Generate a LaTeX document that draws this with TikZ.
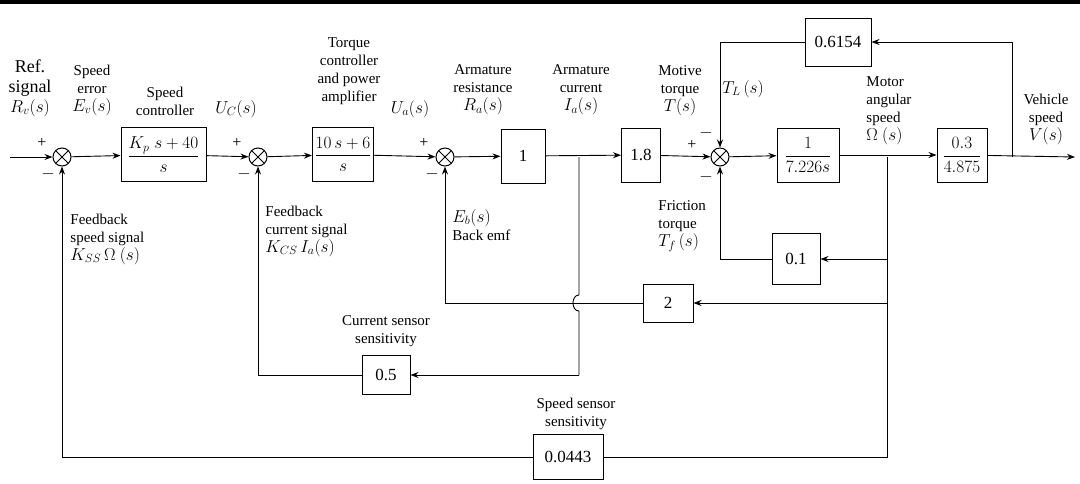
\documentclass[tikz,border=0pt]{standalone}
\usepackage{amsmath}
\usepackage{fontspec}
\setmainfont{Liberation Serif}
\usetikzlibrary{arrows.meta}
\begin{document}
\begin{tikzpicture}[x=1pt,y=-1pt,
  blk/.style={draw,line width=1pt,minimum height=#1,inner sep=2pt,font=\rmfamily\fontsize{17}{19}\selectfont},
  blk/.default=54pt,
  sum/.style={draw,circle,line width=1pt,minimum size=18pt,inner sep=0pt,path picture={\draw[line width=1pt] (path picture bounding box.north west)--(path picture bounding box.south east) (path picture bounding box.north east)--(path picture bounding box.south west);}},
  lbl/.style={font=\rmfamily\fontsize{15}{18}\selectfont,align=center,inner sep=0pt},
  lbll/.style={lbl,align=left,anchor=west},
  sg/.style={font=\fontsize{16}{16}\selectfont,inner sep=0pt},
  every path/.style={line width=0.9pt},
  ar/.style={-{Stealth[length=8pt,width=6pt]}}]
\useasboundingbox (0,0) rectangle (1080,483);
\fill (0,0) rectangle (1080,4);
\newcommand\mlab[1]{{\fontsize{17}{18}\selectfont$#1$}}
% main path
\coordinate (in) at (10,157);
\node[sum] (s1) at (62,157) {};
\node[blk,minimum width=85pt] (b1) at (163.5,154.5) {$\dfrac{K_p\;s+40}{s}$};
\node[sum] (s2) at (258,157) {};
\node[blk,minimum width=56pt] (b2) at (343,154.5) {$\dfrac{10\,s+6}{s}$};
\node[sum] (s3) at (445,157) {};
\node[blk,minimum width=44pt] (b3) at (523,156) {1};
\coordinate (ia) at (579,157);
\node[blk,minimum width=39pt] (b4) at (641,155) {1.8};
\node[sum] (s4) at (720,157) {};
\node[blk,minimum width=62pt] (b5) at (808,155) {$\dfrac{1}{7.226s}$};
\coordinate (om) at (887,157);
\node[blk,minimum width=50pt,inner sep=1pt] (b6) at (962,155) {$\dfrac{0.3}{4.875}$};
\coordinate (vs) at (1012,157);
\coordinate (out) at (1075,157);
\node[blk=48pt,minimum width=66pt] (b7) at (838,42) {0.6154};
\node[blk=51pt,minimum width=48pt] (b8) at (796,259) {0.1};
\node[blk=38pt,minimum width=50pt] (b9) at (668,303) {2};
\node[blk=39pt,minimum width=48pt] (b10) at (386,375) {0.5};
\node[blk=45pt,minimum width=70pt] (b11) at (568,457) {0.0443};
\draw[ar] (in) -- (s1);
\draw[ar] (s1) -- (b1);
\draw[ar] (b1) -- (s2);
\draw[ar] (s2) -- (b2);
\draw[ar] (b2) -- (s3);
\draw[ar] (s3) -- (b3);
\draw[ar] (b3) -- (b4);
\draw[ar] (b4) -- (s4);
\draw[ar] (s4) -- (b5);
\draw[ar] (b5) -- (b6);
\draw[ar] (b6) -- (out);
\draw[ar] (vs) |- (b7.east);
\draw[ar] (b7.west) -| (s4.north);
\draw[ar] (om) |- (b8.east);
\draw[ar] (b8.west) -| (s4.south);
\draw[ar] (om |- b9) -- (b9.east);
\draw[ar] (b9.west) -| (s3.south);
\draw (ia) -- (579,295) .. controls (571,295) and (571,311) .. (579,311) -- (579,375);
\draw[ar] (579,375) -- (b10.east);
\draw[ar] (b10.west) -| (s2.south);
\draw (om) -- (887,457) -- (b11.east);
\draw[ar] (b11.west) -| (s1.south);
% signs
\node[sg] at (42,143) {+}; \node[sg] at (48,174) {$-$};
\node[sg] at (237,143) {+}; \node[sg] at (244,174) {$-$};
\node[sg] at (424,143) {+}; \node[sg] at (432,174) {$-$};
\node[sg] at (692,145) {+}; \node[sg] at (706,133) {$-$}; \node[sg] at (706,177) {$-$};
% labels
\node[lbl,font=\rmfamily\fontsize{18}{20}\selectfont] at (30,88) {Ref.\\signal\\\mlab{R_v(s)}};
\node[lbl] at (92,90) {Speed\\error\\\mlab{E_v(s)}};
\node[lbl] at (165,101) {Speed\\controller};
\node[lbl] at (236,109) {\mlab{U_C(s)}};
\node[lbl] at (349,71) {Torque\\controller\\and power\\amplifier};
\node[lbl] at (410,109) {\mlab{U_a(s)}};
\node[lbl] at (483,90) {Armature\\resistance\\\mlab{R_a(s)}};
\node[lbl] at (581,90) {Armature\\current\\\mlab{I_a(s)}};
\node[lbl] at (680,91) {Motive\\torque\\\mlab{T(s)}};
\node[lbl] at (743,89) {\mlab{T_L\,(s)}};
\node[lbll] at (866,111) {Motor\\angular\\speed\\\mlab{\Omega\ (s)}};
\node[lbl] at (1046,119) {Vehicle\\speed\\\mlab{V(s)}};
\node[lbll] at (70,239) {Feedback\\speed signal\\\mlab{K_{SS}\,\Omega\ (s)}};
\node[lbll] at (265,231) {Feedback\\current signal\\\mlab{K_{CS}\,I_a(s)}};
\node[lbll] at (452,225) {\mlab{E_b(s)}\\Back emf};
\node[lbll] at (658,226) {Friction\\torque\\\mlab{T_f\,(s)}};
\node[lbl] at (386,331) {Current sensor\\sensitivity};
\node[lbl] at (576,414) {Speed sensor\\sensitivity};
\end{tikzpicture}
\end{document}
